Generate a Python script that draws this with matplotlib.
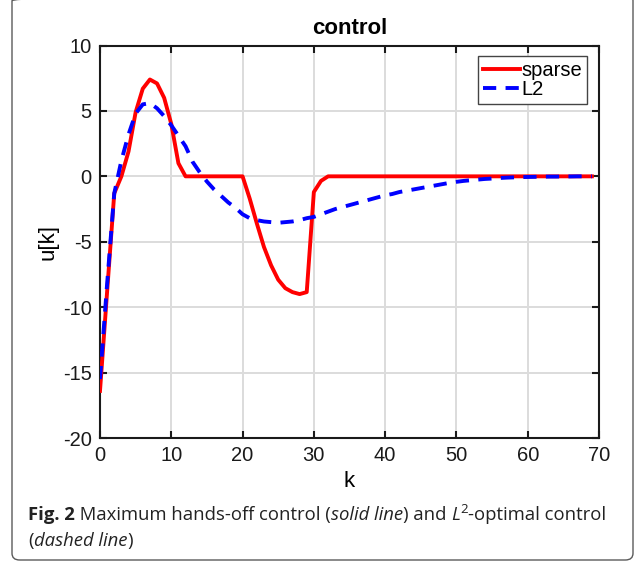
import matplotlib
matplotlib.use("Agg")
import matplotlib.pyplot as plt
from matplotlib.patches import FancyBboxPatch
from matplotlib.font_manager import FontProperties, findfont

# ---------------- data ----------------
k = list(range(70))
sparse = [-16.4, -8.8, -1.3, 0.0, 1.9, 4.9, 6.7, 7.4, 7.1, 6.0,
          4.0, 1.0, 0.0, 0.0, 0.0, 0.0, 0.0, 0.0, 0.0, 0.0,
          0.0, -1.7, -3.6, -5.4, -6.8, -7.9, -8.55, -8.85, -9.0, -8.85,
          -1.2, -0.35, 0.0, 0.0, 0.0, 0.0, 0.0, 0.0, 0.0, 0.0,
          0.0, 0.0, 0.0, 0.0, 0.0, 0.0, 0.0, 0.0, 0.0, 0.0,
          0.0, 0.0, 0.0, 0.0, 0.0, 0.0, 0.0, 0.0, 0.0, 0.0,
          0.0, 0.0, 0.0, 0.0, 0.0, 0.0, 0.0, 0.0, 0.0, 0.0]
l2 = [-15.5, -8.2, -1.3, 1.2, 3.2, 4.8, 5.5, 5.6, 5.2, 4.6,
      3.9, 3.1, 2.3, 1.1, 0.3, -0.4, -1.0, -1.5, -2.0, -2.4,
      -2.9, -3.2, -3.35, -3.45, -3.5, -3.55, -3.5, -3.45, -3.35, -3.2,
      -3.1, -2.9, -2.7, -2.5, -2.35, -2.2, -2.05, -1.9, -1.75, -1.6,
      -1.45, -1.35, -1.2, -1.1, -1.0, -0.9, -0.8, -0.7, -0.6, -0.5,
      -0.42, -0.35, -0.3, -0.25, -0.2, -0.17, -0.13, -0.1, -0.08, -0.06,
      -0.05, -0.04, -0.03, -0.02, -0.02, -0.01, -0.01, 0.0, 0.0, 0.0]
series_labels = ["sparse", "L2"]
title = "control"
xlabel = "k"
ylabel = "u[k]"
xticks = [0, 10, 20, 30, 40, 50, 60, 70]
yticks = [-20, -15, -10, -5, 0, 5, 10]

W, H = 636, 563
plt.rcParams["font.family"] = ["Liberation Sans", "DejaVu Sans"]
plt.rcParams["axes.unicode_minus"] = False

fig = plt.figure(figsize=(W / 100, H / 100), dpi=100)
fig.patch.set_facecolor("white")

# rounded frame around the whole figure
frame = FancyBboxPatch((12 / W, 3 / H), (633 - 12) / W, (H + 6 - 3) / H,
                       boxstyle="round,pad=0,rounding_size=0.012",
                       transform=fig.transFigure, fill=False,
                       edgecolor="#5a5a5a", linewidth=1.0, clip_on=False)
fig.patches.append(frame)

ax = fig.add_axes([100 / W, 1 - 438 / H, 499 / W, (438 - 45.5) / H])
ax.plot(k, sparse, color="#ff0000", linewidth=2.8, solid_joinstyle="round",
        label=series_labels[0], zorder=3)
ax.plot(k, l2, color="#0000ff", linewidth=2.8, linestyle=(0, (3.4, 2.4)),
        label=series_labels[1], zorder=4)

ax.set_xlim(0, 70)
ax.set_ylim(-20, 10)
ax.set_xticks(xticks)
ax.set_yticks(yticks)
ax.grid(True, color="#dcdcdc", linewidth=1.4)
ax.set_axisbelow(True)
for s in ax.spines.values():
    s.set_linewidth(1.5)
    s.set_color("#1a1a1a")
ax.tick_params(direction="in", length=5, width=1.5, top=True, right=True,
               labelsize=14.5, pad=6, colors="#1a1a1a", labelcolor="#1a1a1a")

ax.set_title(title, fontsize=16, fontweight="bold", pad=8)
ax.set_xlabel(xlabel, fontsize=16, labelpad=4)
ax.set_ylabel(ylabel, fontsize=16, labelpad=3)

leg = ax.legend(loc="upper right", bbox_to_anchor=(0.976, 0.973),
                borderaxespad=0, fontsize=14.5, handlelength=1.85,
                handletextpad=0.05, borderpad=0.25, labelspacing=0.0,
                fancybox=False, framealpha=1)
leg.get_frame().set_edgecolor("#444444")
leg.get_frame().set_linewidth(1.0)

# ---------------- caption ----------------
def pick_family():
    for fam in ["Liberation Sans Narrow", "Open Sans", "Noto Sans"]:
        try:
            findfont(FontProperties(family=fam), fallback_to_default=False)
            return fam
        except Exception:
            continue
    return "DejaVu Sans"

cap_fam = pick_family()
line1 = [("Fig. 2", "bold", "normal", False),
         (" Maximum hands-off control (", "normal", "normal", False),
         ("solid line", "normal", "italic", False),
         (") and ", "normal", "normal", False),
         ("L", "normal", "italic", False),
         ("2", "normal", "normal", True),
         ("-optimal control", "normal", "normal", False)]
line2 = [("(", "normal", "normal", False),
         ("dashed line", "normal", "italic", False),
         (")", "normal", "normal", False)]

renderer = fig.canvas.get_renderer()


def draw_line(pieces, x0, ybase, size):
    x = x0
    objs = []
    for txt, wt, st, sup in pieces:
        fs = size * 0.72 if sup else size
        y = ybase - (size * 0.5 if sup else 0)
        t = fig.text(x / W, 1 - y / H, txt, fontsize=fs, fontweight=wt,
                     fontstyle=st, family=cap_fam, va="baseline", ha="left",
                     color="#222222")
        bb = t.get_window_extent(renderer)
        x += bb.width
        objs.append(t)
    return x - x0, objs


# fit caption size so line 1 spans the original width
size = 13.5
wid, objs = draw_line(line1, 28, 520, size)
for o in objs:
    o.remove()
size = size * (605 - 28) / wid
draw_line(line1, 28, 520, size)
draw_line(line2, 28, 546, size)

fig.savefig("out.png", dpi=100, facecolor="white")
